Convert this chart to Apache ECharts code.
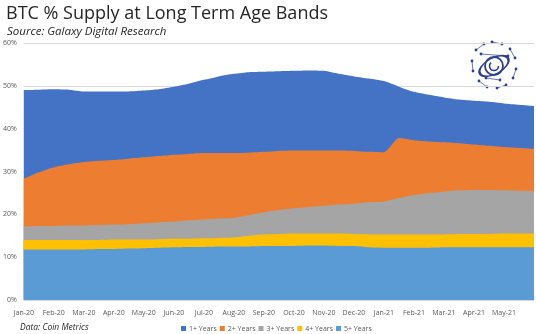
<!DOCTYPE html>
<html>
<head>
<meta charset="utf-8">
<script src="https://cdn.jsdelivr.net/npm/echarts@6/dist/echarts.min.js"></script>
<style>
  html, body { margin: 0; padding: 0; background: #fff; }
  #chart { width: 536px; height: 334px; }
</style>
</head>
<body>
<div id="chart"></div>
<script>
// half-month points, Jan-20 .. end of May-21; label only on month starts
const months = ['Jan-20', 'Feb-20', 'Mar-20', 'Apr-20', 'May-20', 'Jun-20', 'Jul-20', 'Aug-20',
  'Sep-20', 'Oct-20', 'Nov-20', 'Dec-20', 'Jan-21', 'Feb-21', 'Mar-21', 'Apr-21', 'May-21'];

const oneYear = [49.0, 49.1, 49.2, 49.1, 48.7, 48.7, 48.7, 48.7, 48.9, 49.2, 49.8, 50.5,
  51.4, 52.2, 52.8, 53.2, 53.3, 53.4, 53.5, 53.6, 53.5, 52.8, 52.2, 51.7, 51.1, 49.8,
  48.6, 47.9, 47.3, 46.8, 46.5, 46.3, 45.9, 45.6, 45.3];
const twoYears = [28.3, 29.8, 31.0, 31.7, 32.2, 32.5, 32.7, 33.0, 33.3, 33.6, 33.9, 34.1,
  34.3, 34.3, 34.3, 34.4, 34.6, 34.8, 34.9, 34.9, 34.9, 34.9, 34.8, 34.6, 34.5, 37.8,
  37.3, 37.0, 36.8, 36.6, 36.3, 36.0, 35.7, 35.5, 35.3];
const threeYears = [17.2, 17.3, 17.3, 17.4, 17.4, 17.5, 17.6, 17.7, 17.9, 18.1, 18.3, 18.6,
  18.8, 19.0, 19.2, 19.8, 20.5, 21.0, 21.4, 21.7, 22.0, 22.3, 22.5, 22.8, 23.0, 23.8,
  24.5, 25.0, 25.3, 25.6, 25.7, 25.7, 25.6, 25.5, 25.4];
const fourYears = [14.0, 14.0, 14.0, 14.0, 14.0, 14.0, 14.1, 14.1, 14.1, 14.2, 14.3, 14.3,
  14.4, 14.5, 14.6, 15.0, 15.3, 15.4, 15.5, 15.5, 15.5, 15.5, 15.4, 15.3, 15.3, 15.3,
  15.3, 15.3, 15.3, 15.4, 15.4, 15.4, 15.5, 15.5, 15.5];
const fiveYears = [11.8, 11.8, 11.8, 11.8, 11.8, 11.9, 11.9, 12.0, 12.1, 12.2, 12.3, 12.4,
  12.4, 12.5, 12.5, 12.5, 12.6, 12.6, 12.6, 12.7, 12.7, 12.6, 12.6, 12.3, 12.2, 12.2,
  12.2, 12.2, 12.3, 12.3, 12.3, 12.3, 12.3, 12.3, 12.3];

const seriesNames = ['1+ Years', '2+ Years', '3+ Years', '4+ Years', '5+ Years'];
const seriesData = [oneYear, twoYears, threeYears, fourYears, fiveYears];
const colors = ['#4472C4', '#ED7D31', '#A5A5A5', '#FFC000', '#5B9BD5'];

const categories = [];
months.forEach(m => { categories.push(m); categories.push(m + ' mid'); });
categories.push('end');

const chart = echarts.init(document.getElementById('chart'));

// little network-planet logo, top right
const dots = [[-18, -16], [-10, -22], [-2, -24], [8, -22], [16, -17], [21, -8], [22, 3], [19, 12],
  [12, 19], [3, 22], [-7, 21], [-15, 15], [-21, 5], [-22, -5], [-13, -12], [14, -10], [6, 14], [-8, 12]];
const logo = [];
dots.forEach((d, i) => {
  logo.push({ type: 'circle', shape: { cx: d[0], cy: d[1], r: 1.4 }, style: { fill: '#2e3f8f' } });
  const n = dots[(i + 1) % dots.length];
  if (i % 2 === 0) {
    logo.push({ type: 'line', shape: { x1: d[0], y1: d[1], x2: n[0], y2: n[1] },
      style: { stroke: '#2e3f8f', lineWidth: 0.7 } });
  }
});

chart.setOption({
  animation: false,
  color: colors,
  textStyle: { fontFamily: 'Open Sans' },
  title: [
    { text: 'BTC % Supply at Long Term Age Bands', left: 1, top: 0,
      textStyle: { fontFamily: 'Open Sans', fontSize: 18, fontWeight: 'normal', color: '#262626' } },
    { text: 'Source: Galaxy Digital Research', left: 2, top: 21,
      textStyle: { fontFamily: 'Open Sans', fontSize: 11.5, fontStyle: 'italic', fontWeight: 'normal', color: '#262626' } },
    { text: 'Data: Coin Metrics', left: 15, top: 318,
      textStyle: { fontFamily: 'Open Sans', fontSize: 8.5, fontStyle: 'italic', fontWeight: 'normal', color: '#262626' } }
  ],
  legend: {
    data: seriesNames,
    left: 176, top: 320,
    icon: 'rect', itemWidth: 5, itemHeight: 5, itemGap: 3,
    textStyle: { fontSize: 7, color: '#595959', padding: [0, 0, 0, -2] }
  },
  grid: { left: 23, right: 2, top: 43, bottom: 34 },
  xAxis: {
    type: 'category',
    data: categories,
    boundaryGap: false,
    axisLine: { show: false },
    axisTick: { show: false },
    axisLabel: {
      fontSize: 7, color: '#595959', margin: 9,
      interval: (idx) => idx % 2 === 0 && idx < categories.length - 1,
      formatter: (v) => v
    }
  },
  yAxis: {
    type: 'value', min: 0, max: 60, interval: 10,
    axisLabel: { formatter: '{value}%', fontSize: 7, color: '#595959', margin: 7 },
    splitLine: { lineStyle: { color: '#d9d9d9', width: 1 } }
  },
  series: seriesNames.map((name, i) => ({
    name: name,
    type: 'line',
    data: seriesData[i],
    showSymbol: false,
    smooth: 0.2,
    lineStyle: { width: 0 },
    areaStyle: { color: colors[i], opacity: 1 },
    itemStyle: { color: colors[i] }
  })),
  graphic: [
    { type: 'group', x: 494, y: 66, children: logo.concat([
      { type: 'group', rotation: 0.5, scaleY: 0.5, children: [
        { type: 'circle', shape: { cx: 0, cy: 0, r: 16 }, style: { fill: 'none', stroke: '#2e3f8f', lineWidth: 2.6 } }
      ] },
      { type: 'circle', shape: { cx: 0, cy: 0, r: 9 }, style: { fill: 'none', stroke: '#2e3f8f', lineWidth: 1.8 } },
      { type: 'arc', shape: { cx: 0, cy: 0, r: 4.5, startAngle: 0, endAngle: 4 }, style: { stroke: '#2e3f8f', lineWidth: 1.6, fill: 'none' } }
    ]) }
  ]
});
</script>
</body>
</html>
